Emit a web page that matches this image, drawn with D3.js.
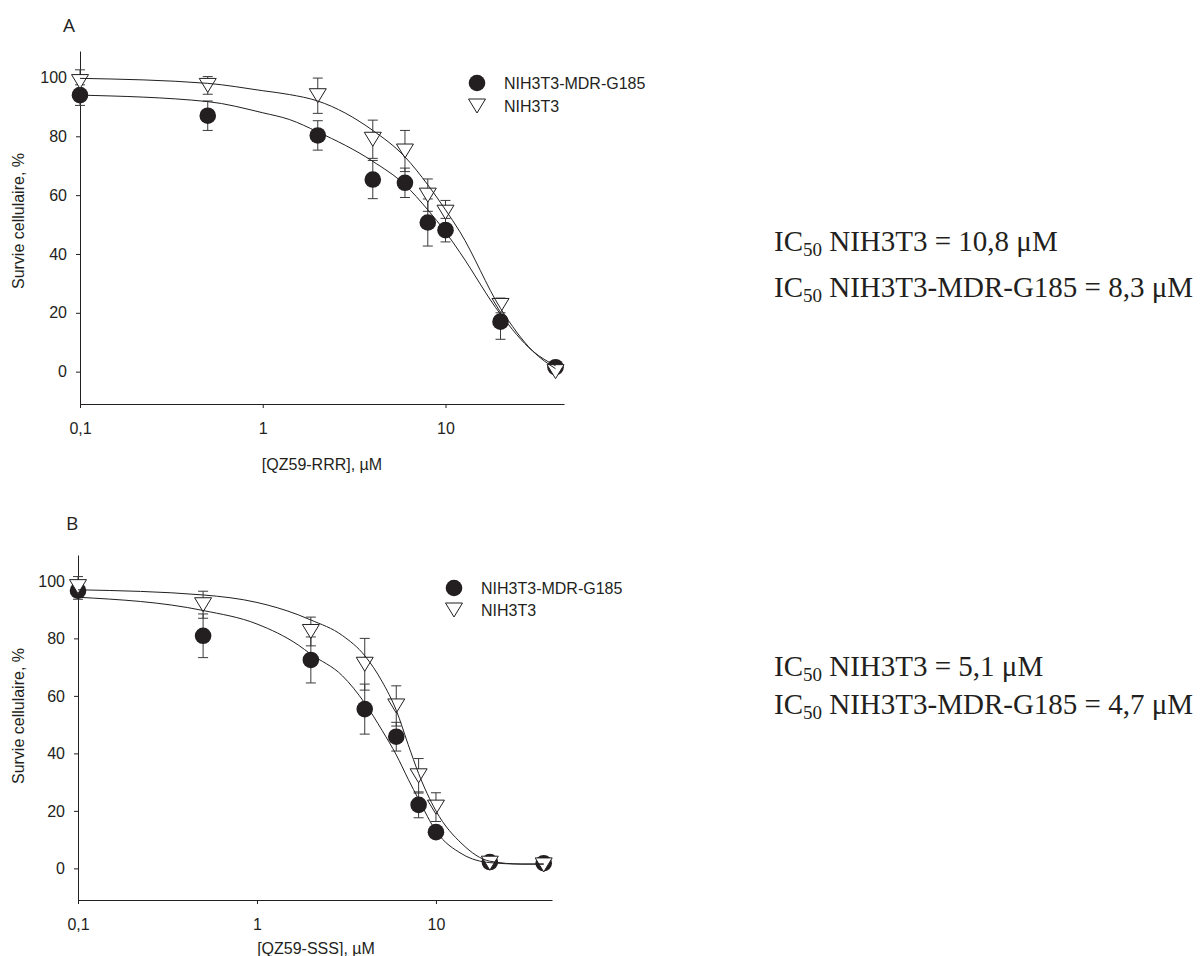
<!DOCTYPE html>
<html><head><meta charset="utf-8">
<script src="https://cdn.jsdelivr.net/npm/d3@7"></script>
<style>body{margin:0;background:#fff}svg{display:block}</style>
</head><body>
<svg id="chart" width="1204" height="956"></svg>
<script>
// ---------- data ----------
const concentrations = [0.1, 0.5, 2, 4, 6, 8, 10, 20, 40];
const seriesNames = ["NIH3T3-MDR-G185", "NIH3T3"];
const xTicks = [0.1, 1, 10];
const xTickLabels = ["0,1", "1", "10"];
const yTicks = [0, 20, 40, 60, 80, 100];

// Panel A : QZ59-RRR
const rrrMdrMean = [94, 87, 80.3, 65.3, 64.2, 50.7, 48.1, 17, 1.5];
const rrrMdrErr  = [3.5, 5, 5, 6.5, 5, 8, 4, 6, 1];
const rrrNihMean = [98.6, 97.3, 93.8, 79, 75, 60, 54.2, 22.5, 0];
const rrrNihErr  = [4, 3, 6, 6.5, 7, 5.5, 4, 2.5, 0];
const rrrFitX    = [0.1, 0.5, 1, 1.4, 2, 4, 6, 8, 10, 12, 20, 30, 40];
const rrrMdrFit  = [94, 91.8, 88, 85.7, 81.5, 71.5, 63.5, 55, 47.5, 40.5, 19.5, 7, 2];
const rrrNihFit  = [99.7, 98, 95.5, 94.2, 92, 82, 73, 63.5, 55, 47.5, 21.5, 7, 1];
const rrrIC50    = ["10,8", "8,3"];

// Panel B : QZ59-SSS
const sssMdrMean = [96.6, 80.9, 72.5, 55.4, 45.8, 22.1, 12.6, 2.2, 1.8];
const sssMdrErr  = [3, 7.6, 8, 8.7, 5, 4.5, 1.5, 1, 1];
const sssNihMean = [98, 91.7, 82.4, 71, 56.5, 32.2, 21.3, 1.8, 1.2];
const sssNihErr  = [3.5, 4.7, 5, 9, 7, 6, 5, 1, 1];
const sssFitX    = [0.1, 0.5, 1, 1.7, 2, 3, 4, 5, 6, 7, 8, 10, 14, 20, 30, 40];
const sssMdrFit  = [94.3, 89.7, 85, 77.7, 74.5, 67, 57.5, 48, 39.5, 31, 24, 13, 5, 2, 1.5, 1.5];
const sssNihFit  = [96.9, 95.1, 92.5, 88.2, 86.4, 81, 74, 65, 55, 43, 33, 20, 8.5, 2.5, 1.5, 1.5];
const sssIC50    = ["5,1", "4,7"];

// ---------- drawing ----------
const svg = d3.select("#chart");
const ink = "#231f20";
const sans = "'Liberation Sans', Arial, sans-serif";
const serif = "'Liberation Serif', 'Times New Roman', serif";
const xDomain = [0.1, 44.5];
const yDomain = [-11, 109];

const panels = [
  {letter: "A", lx: 63, ly: 32, left: 80, right: 564, top: 51, bottom: 404,
   xLabel: "[QZ59-RRR], µM", xLabelX: 322, xLabelY: 470, yLabelY: 221,
   legX: 477, legY: 83, legDy: 23,
   mdr: [rrrMdrMean, rrrMdrErr], nih: [rrrNihMean, rrrNihErr],
   fitX: rrrFitX, mdrFit: rrrMdrFit, nihFit: rrrNihFit,
   ic50: rrrIC50, icY1: 251, icY2: 297},
  {letter: "B", lx: 66, ly: 530, left: 78, right: 552, top: 555, bottom: 900,
   xLabel: "[QZ59-SSS], µM", xLabelX: 316, xLabelY: 954, yLabelY: 716,
   legX: 454, legY: 588, legDy: 22,
   mdr: [sssMdrMean, sssMdrErr], nih: [sssNihMean, sssNihErr],
   fitX: sssFitX, mdrFit: sssMdrFit, nihFit: sssNihFit,
   ic50: sssIC50, icY1: 676, icY2: 714}
];

const triPath = "M-8.5,-7L8.5,-7L0,7Z";

function drawPanel(p) {
  const x = d3.scaleLog().domain(xDomain).range([p.left, p.right]);
  const y = d3.scaleLinear().domain(yDomain).range([p.bottom, p.top]);
  const g = svg.append("g");

  // axes
  const ya = g.append("g").attr("transform", `translate(${p.left},0)`)
    .call(d3.axisLeft(y).tickValues(yTicks).tickSize(4).tickSizeOuter(0).tickPadding(9).tickFormat(d3.format("d")));
  const xa = g.append("g").attr("transform", `translate(0,${p.bottom})`)
    .call(d3.axisBottom(x).tickValues(xTicks).tickSize(4).tickSizeOuter(0).tickPadding(15)
      .tickFormat((d, i) => xTickLabels[i]));
  [ya, xa].forEach(a => {
    a.selectAll("path,line").attr("stroke", ink).attr("stroke-width", 1);
    a.selectAll("text").attr("fill", ink).style("font-family", sans).style("font-size", "16px");
  });

  // axis titles
  g.append("text").attr("x", p.xLabelX).attr("y", p.xLabelY).attr("text-anchor", "middle")
    .style("font-family", sans).style("font-size", "16px").attr("fill", ink).text(p.xLabel);
  g.append("text").attr("transform", `translate(24,${p.yLabelY}) rotate(-90)`).attr("text-anchor", "middle")
    .style("font-family", sans).style("font-size", "16px").attr("fill", ink).text("Survie cellulaire, %");
  g.append("text").attr("x", p.lx).attr("y", p.ly)
    .style("font-family", "'Open Sans', sans-serif").style("font-size", "19px").attr("fill", ink).text(p.letter);

  const pts = (arr) => concentrations.map((c, i) => ({c, m: arr[0][i], e: arr[1][i]}));
  const mdrPts = pts(p.mdr), nihPts = pts(p.nih);

  // error bars
  const eb = g.append("g").attr("stroke", "#3a3a3a").attr("stroke-width", 1);
  [...mdrPts, ...nihPts].filter(d => d.e > 0).forEach(d => {
    const cx = x(d.c), y1 = y(d.m - d.e), y2 = y(d.m + d.e);
    eb.append("line").attr("x1", cx).attr("x2", cx).attr("y1", y1).attr("y2", y2);
    eb.append("line").attr("x1", cx - 5).attr("x2", cx + 5).attr("y1", y1).attr("y2", y1);
    eb.append("line").attr("x1", cx - 5).attr("x2", cx + 5).attr("y1", y2).attr("y2", y2);
  });

  // markers
  g.append("g").selectAll("circle").data(mdrPts).join("circle")
    .attr("cx", d => x(d.c)).attr("cy", d => y(d.m)).attr("r", 8.3).attr("fill", ink);
  g.append("g").selectAll("path").data(nihPts).join("path")
    .attr("transform", d => `translate(${x(d.c)},${y(d.m)})`).attr("d", triPath)
    .attr("fill", "#fff").attr("stroke", ink).attr("stroke-width", 1);

  // fitted curves
  const line = d3.line().x(d => x(d[0])).y(d => y(d[1])).curve(d3.curveMonotoneX);
  [p.mdrFit, p.nihFit].forEach(fit => {
    g.append("path").attr("d", line(p.fitX.map((c, i) => [c, fit[i]])))
      .attr("fill", "none").attr("stroke", ink).attr("stroke-width", 1);
  });

  // legend
  const lg = g.append("g");
  lg.append("circle").attr("cx", p.legX).attr("cy", p.legY).attr("r", 8.3).attr("fill", ink);
  lg.append("path").attr("transform", `translate(${p.legX},${p.legY + p.legDy})`).attr("d", triPath)
    .attr("fill", "#fff").attr("stroke", ink);
  seriesNames.forEach((n, i) => {
    lg.append("text").attr("x", p.legX + 27).attr("y", p.legY + i * p.legDy + 5.5)
      .style("font-family", sans).style("font-size", "16px").attr("fill", ink).text(n);
  });

  // IC50 annotations
  const icLines = [["NIH3T3", p.ic50[0], p.icY1], ["NIH3T3-MDR-G185", p.ic50[1], p.icY2]];
  icLines.forEach(([name, val, yy]) => {
    const t = svg.append("text").attr("x", 774).attr("y", yy)
      .style("font-family", serif).style("font-size", "29px").attr("fill", ink);
    t.append("tspan").text("IC");
    t.append("tspan").attr("dy", 5).style("font-size", "19px").text("50");
    t.append("tspan").attr("dy", -5).text(` ${name} = ${val} μM`);
  });
}

panels.forEach(drawPanel);
</script>
</body></html>
